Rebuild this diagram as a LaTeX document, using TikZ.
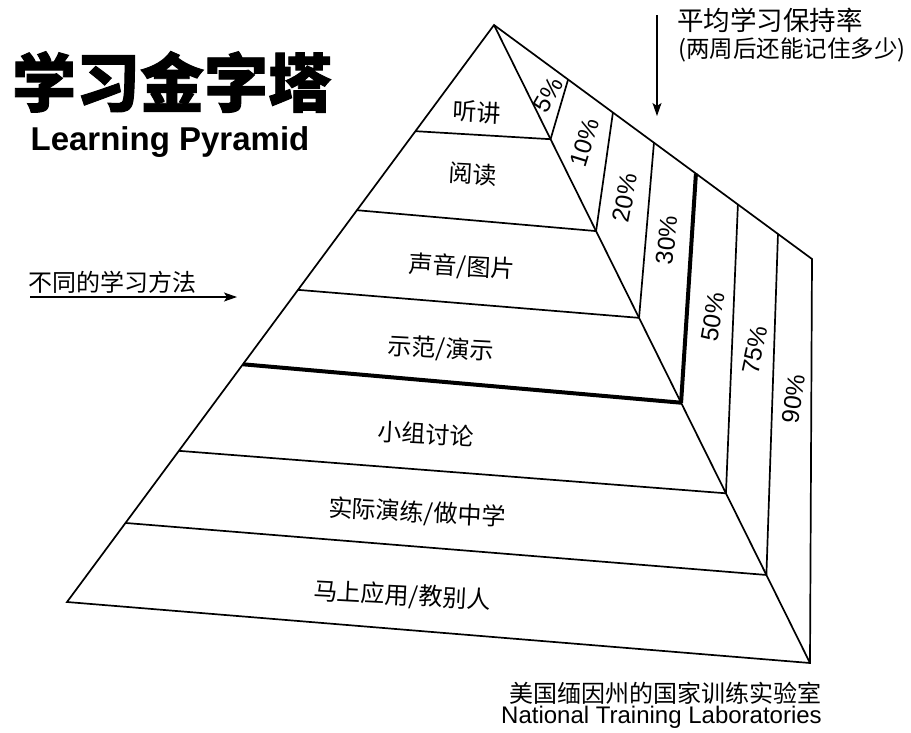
\documentclass[tikz,border=0pt]{standalone}
\usepackage{fontspec}
\usepackage{tikz}
\usetikzlibrary{arrows.meta,calc,positioning}
\newfontfamily\cjk{Noto Sans CJK SC}
\newfontfamily\cjkheavy{Noto Sans CJK SC}[BoldFeatures={FakeBold=1.5}]
\newfontfamily\latinsans{Liberation Sans}

\begin{document}
\begin{tikzpicture}[x=1pt,y=-1pt,
    every node/.style={inner sep=0pt},
    edge/.style={line width=1.7pt},
    heavy/.style={line width=4pt},
    layer/.style={font=\cjk\fontsize{24}{28}\selectfont, rotate=-3},
    rate/.style={font=\latinsans\fontsize{24.5}{28}\selectfont},
    note/.style={font=\cjk\fontsize{24}{28}\selectfont},
    pointer/.style={line width=1.2pt, -{Stealth[length=13pt,width=9pt,inset=3pt]}}]
\useasboundingbox (0,0) rectangle (911,732);

% corners of the pyramid
\coordinate (apex) at (494,25);
\coordinate (bl) at (67,602);
\coordinate (br) at (810,663);
\coordinate (tr) at (812,259);

% ends of the layer lines
\coordinate (l1) at ($(apex)!0.184!(bl)$);
\coordinate (l2) at ($(apex)!0.321!(bl)$);
\coordinate (l3) at ($(apex)!0.459!(bl)$);
\coordinate (l4) at ($(apex)!0.588!(bl)$);
\coordinate (l5) at ($(apex)!0.738!(bl)$);
\coordinate (l6) at ($(apex)!0.863!(bl)$);
\coordinate (r1) at ($(apex)!0.179!(br)$);
\coordinate (r2) at ($(apex)!0.323!(br)$);
\coordinate (r3) at ($(apex)!0.459!(br)$);
\coordinate (r4) at ($(apex)!0.592!(br)$);
\coordinate (r5) at ($(apex)!0.734!(br)$);
\coordinate (r6) at ($(apex)!0.862!(br)$);
% tops of the rate columns
\coordinate (t1) at ($(apex)!0.233!(tr)$);
\coordinate (t2) at ($(apex)!0.374!(tr)$);
\coordinate (t3) at ($(apex)!0.503!(tr)$);
\coordinate (t4) at ($(apex)!0.635!(tr)$);
\coordinate (t5) at ($(apex)!0.767!(tr)$);
\coordinate (t6) at ($(apex)!0.893!(tr)$);

\draw[edge] (apex) -- (bl) -- (br) -- (tr) -- cycle;
\draw[edge] (apex) -- (br);

\draw[edge] (l1) -- (r1);
\draw[edge] (l2) -- (r2);
\draw[edge] (l3) -- (r3);
\draw[heavy] (l4) -- (r4);
\draw[edge] (l5) -- (r5);
\draw[edge] (l6) -- (r6);

\draw[edge] (t1) -- (r1);
\draw[edge] (t2) -- (r2);
\draw[edge] (t3) -- (r3);
\draw[heavy] (t4) -- (r4);
\draw[edge] (t5) -- (r5);
\draw[edge] (t6) -- (r6);

% learning methods
\node[layer] (lecture) at (477,112) {听讲};
\node[layer] (reading) at (473,174) {阅读};
\node[layer] (audiovisual) at (462,267) {声音/图片};
\node[layer] (demo) at (441,349) {示范/演示};
\node[layer] (discussion) at (426,434) {小组讨论};
\node[layer] (practice) at (417,513) {实际演练/做中学};
\node[layer] (teaching) at (402,596) {马上应用/教别人};

% retention rates
\node[rate, rotate=60] (p5) at (548,95) {5\%};
\node[rate, rotate=73] (p10) at (585,143) {10\%};
\node[rate, rotate=79] (p20) at (625,198) {20\%};
\node[rate, rotate=84] (p30) at (667,240) {30\%};
\node[rate, rotate=80] (p50) at (713,317) {50\%};
\node[rate, rotate=78] (p75) at (755,350) {75\%};
\node[rate, rotate=82] (p90) at (794,399) {90\%};

% title
\node[font=\cjkheavy\bfseries\fontsize{64}{70}\selectfont] (title) at (172,82) {学习金字塔};
\node[font=\latinsans\bfseries\fontsize{33}{36}\selectfont, anchor=base] (subtitle) at (170,150) {Learning Pyramid};

% side notes
\node[note, anchor=west] (methods) at (28,282) {不同的学习方法};
\coordinate (mstart) at (30,297);
\coordinate (mend) at (237,297);
\draw[pointer] (mstart) -- (mend);

\node[note, anchor=west, font=\cjk\fontsize{26.5}{28}\selectfont] (retention) at (677,20) {平均学习保持率};
\node[note, anchor=west, font=\cjk\fontsize{23.5}{28}\selectfont] (retnote) at (678,50) {(两周后还能记住多少)};
\coordinate (rstart) at (657,15);
\coordinate (rend) at (657,116);
\draw[pointer] (rstart) -- (rend);

% source
\node[note, anchor=east] (lab) at (822,693) {美国缅因州的国家训练实验室};
\node[font=\latinsans\fontsize{24}{26}\selectfont, anchor=east] (labname) at (822,717) {National Training Laboratories};
\end{tikzpicture}
\end{document}
